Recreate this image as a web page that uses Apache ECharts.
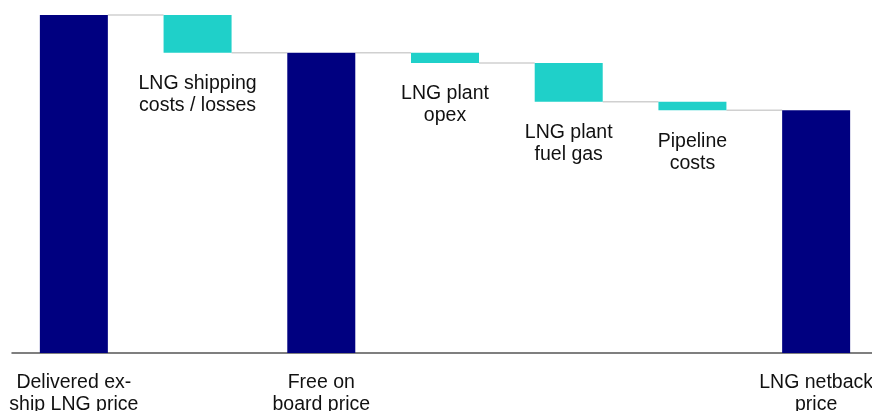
<!DOCTYPE html>
<html>
<head>
<meta charset="utf-8">
<script src="https://cdn.jsdelivr.net/npm/echarts@6/dist/echarts.min.js"></script>
<style>html,body{margin:0;padding:0;background:#fff}#c{width:872px;height:411px}</style>
</head>
<body>
<div id="c"></div>
<script>
const categories = ['Delivered ex-\nship LNG price', 'LNG shipping\ncosts / losses', 'Free on\nboard price', 'LNG plant\nopex', 'LNG plant\nfuel gas', 'Pipeline\ncosts', 'LNG netback\nprice'];
// totals (null = not a total bar)
const totals = [10.0, null, 8.88, null, null, null, 7.18];
// decreases (null = not a change bar)
const changes = [null, 1.12, null, 0.30, 1.15, 0.25, null];

const NAVY = '#000080';
const TEAL = '#1fd0c9';

// compute waterfall bases
const bases = [], heights = [];
let level = 0;
for (let i = 0; i < categories.length; i++) {
  if (totals[i] !== null) {
    bases.push(0); heights.push(totals[i]); level = totals[i];
  } else {
    level = level - changes[i];
    bases.push(level); heights.push(changes[i]);
  }
}
// connectors: from the end level of bar i to bar i+1
const connectData = [];
for (let i = 0; i < categories.length - 1; i++) {
  const lv = totals[i] !== null ? totals[i] : bases[i];
  connectData.push([i, lv]);
}
const chart = echarts.init(document.getElementById('c'), null, {renderer: 'canvas'});
const BW = 68;
const FONT = 'Liberation Sans, Arial, sans-serif';
chart.setOption({
  animation: false,
  grid: {left: 12, width: 866, top: 15, bottom: 58, outerBoundsMode: 'none', containLabel: false},
  xAxis: {
    type: 'category',
    data: categories,
    axisTick: {show: false},
    axisLine: {lineStyle: {color: '#555', width: 1.5}},
    axisLabel: {
      interval: 0,
      margin: 19,
      color: '#111',
      fontFamily: FONT,
      fontSize: 19.5,
      lineHeight: 22,
      formatter: function (v, idx) { return totals[idx] !== null ? v : ''; }
    }
  },
  yAxis: {type: 'value', min: 0, max: 10, show: false, splitLine: {show: false}},
  series: [
    {
      type: 'custom',
      silent: true,
      z: 1,
      renderItem: function (params, api) {
        const i = api.value(0), lv = api.value(1);
        const a = api.coord([i, lv]);
        const b = api.coord([i + 1, lv]);
        return {
          type: 'line',
          shape: {x1: a[0] + BW / 2, y1: a[1], x2: b[0] - BW / 2, y2: b[1]},
          style: {stroke: '#d0d0d0', lineWidth: 1.5}
        };
      },
      data: connectData
    },
    {
      type: 'bar', stack: 'w', barWidth: BW, silent: true, z: 2,
      itemStyle: {color: 'transparent'},
      data: bases
    },
    {
      type: 'bar', stack: 'w', barWidth: BW, z: 3,
      data: heights.map(function (h, i) {
        const isTotal = totals[i] !== null;
        return {
          value: h,
          itemStyle: {color: isTotal ? NAVY : TEAL},
          label: {
            show: !isTotal,
            position: 'bottom',
            distance: 20,
            formatter: categories[i],
            color: '#111',
            fontFamily: FONT,
            fontSize: 19.5,
            lineHeight: 22
          }
        };
      })
    }
  ]
});
</script>
</body>
</html>
